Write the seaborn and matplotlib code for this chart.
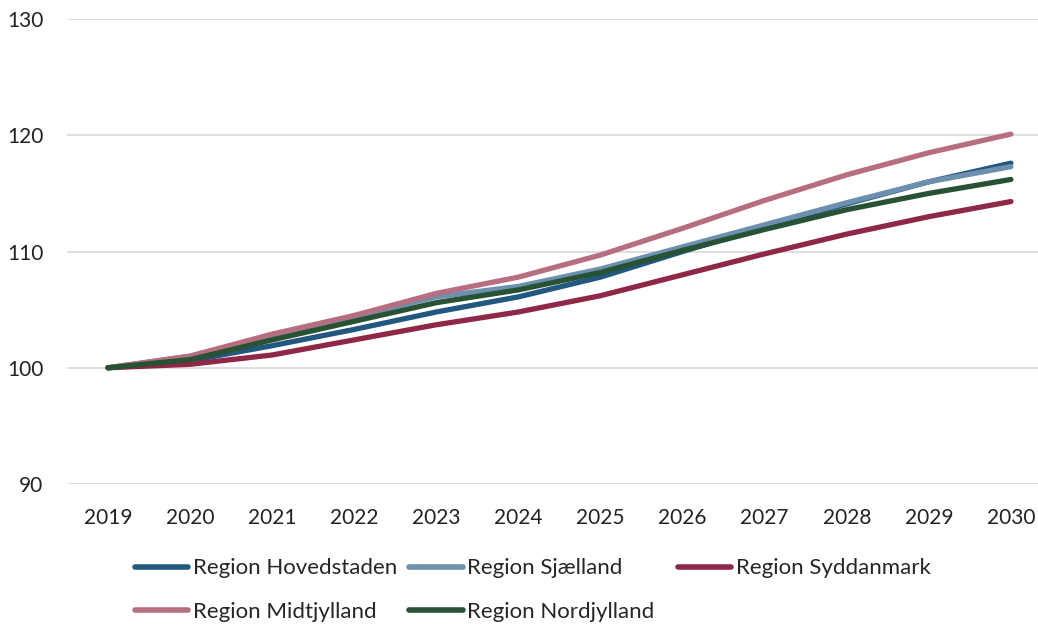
import pandas as pd
import seaborn as sns
import matplotlib
matplotlib.use('Agg')
import matplotlib.pyplot as plt

# Index values (2019 = 100)
years = list(range(2019, 2031))
regions = ["Region Hovedstaden", "Region Sjælland", "Region Syddanmark",
           "Region Midtjylland", "Region Nordjylland"]
hovedstaden = [100, 100.6, 101.9, 103.3, 104.8, 106.1, 107.8, 110.0, 112.1, 114.1, 116.0, 117.6]
sjaelland = [100, 101.0, 102.8, 104.4, 106.1, 107.0, 108.5, 110.4, 112.3, 114.2, 116.0, 117.3]
syddanmark = [100, 100.3, 101.1, 102.4, 103.7, 104.8, 106.2, 108.0, 109.8, 111.5, 113.0, 114.3]
midtjylland = [100, 101.0, 102.9, 104.5, 106.4, 107.8, 109.7, 112.0, 114.4, 116.6, 118.5, 120.1]
nordjylland = [100, 100.7, 102.4, 104.0, 105.6, 106.7, 108.2, 110.1, 111.9, 113.6, 115.0, 116.2]
colors = ["#22577f", "#6c90ad", "#8f2846", "#b76e80", "#275233"]

series = [hovedstaden, sjaelland, syddanmark, midtjylland, nordjylland]
df = pd.concat([pd.DataFrame({"year": years, "value": vals, "region": name})
                for name, vals in zip(regions, series)])

sns.set_style("white")
plt.rcParams['font.family'] = ['Lato', 'DejaVu Sans']

fig = plt.figure(figsize=(10.38, 6.26), dpi=100)
ax = fig.add_axes([0.0645, 0.2268, 0.9355, 0.7428])
sns.lineplot(data=df, x="year", y="value", hue="region", palette=colors,
             hue_order=regions, linewidth=3.8, ax=ax, legend=True,
             solid_capstyle="round")

ax.set_ylim(90, 130)
ax.set_yticks([90, 100, 110, 120, 130])
ax.set_xlim(2018.5, 2030.33)
ax.set_xticks(years)
ax.set_xticklabels([str(y) for y in years])
ax.yaxis.grid(True, color="#d9d9d9", linewidth=1.2)
ax.set_axisbelow(True)
sns.despine(ax=ax, left=True, bottom=True, top=True, right=True)
ax.tick_params(axis="both", length=0, labelsize=15, colors="#222222")
ax.tick_params(axis="x", pad=17)
ax.tick_params(axis="y", pad=17)
ax.set_xlabel("")
ax.set_ylabel("")

# legend rows: Hovedstaden, Sjælland, Syddanmark / Midtjylland, Nordjylland
handles, labels = ax.get_legend_handles_labels()
ax.get_legend().remove()
style = dict(frameon=False, fontsize=16, handlelength=2.4, handletextpad=0.2,
             columnspacing=0.55, labelspacing=1.05, borderaxespad=0, borderpad=0,
             loc="upper left", bbox_transform=fig.transFigure)
order = [0, 3, 1, 4]
leg1 = fig.legend([handles[i] for i in order], [labels[i] for i in order],
                  ncol=2, bbox_to_anchor=(0.13, 0.108), **style)
leg2 = fig.legend([handles[2]], [labels[2]], ncol=1,
                  bbox_to_anchor=(0.653, 0.108), **style)
for leg in (leg1, leg2):
    for line in leg.get_lines():
        line.set_linewidth(4)
        line.set_solid_capstyle("round")

plt.savefig("out.png", dpi=100)
plt.close()
